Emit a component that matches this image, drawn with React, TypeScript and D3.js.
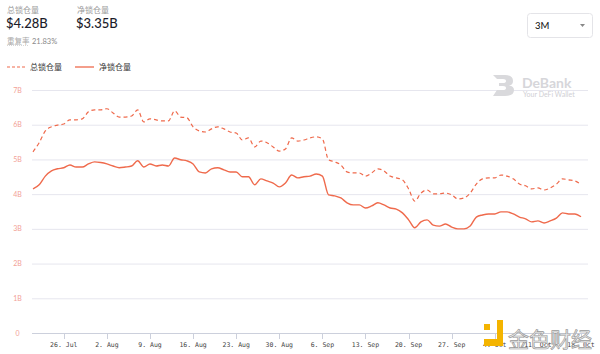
import React, { useEffect, useRef } from 'react';
import * as d3 from 'd3';

// daily values, 21 Jul 2021 .. 18 Oct 2021 (billions USD)
const startDate = new Date(2021, 6, 21);

const totalLocked = [
  5.22, 5.48, 5.82, 5.94, 5.99, 6.02, 6.14, 6.14, 6.17, 6.37,
  6.43, 6.43, 6.46, 6.34, 6.22, 6.22, 6.25, 6.43, 6.08, 6.17,
  6.14, 6.11, 6.11, 6.4, 6.22, 6.2, 5.94, 5.82, 5.79, 5.88,
  5.94, 5.88, 5.79, 5.76, 5.56, 5.62, 5.36, 5.53, 5.48, 5.36,
  5.24, 5.3, 5.62, 5.53, 5.56, 5.62, 5.65, 5.59, 4.99, 4.93,
  4.84, 4.64, 4.61, 4.61, 4.52, 4.61, 4.73, 4.67, 4.52, 4.47,
  4.41, 4.15, 3.8, 4.03, 4.12, 4.01, 4.01, 4.03, 3.98, 3.86,
  3.89, 4.03, 4.29, 4.44, 4.47, 4.47, 4.55, 4.52, 4.44, 4.29,
  4.24, 4.15, 4.18, 4.12, 4.18, 4.29, 4.44, 4.41, 4.38, 4.28,
];

const netLocked = [
  4.15, 4.27, 4.52, 4.67, 4.73, 4.76, 4.84, 4.78, 4.78, 4.87,
  4.93, 4.91, 4.87, 4.81, 4.76, 4.78, 4.81, 4.96, 4.78, 4.87,
  4.81, 4.84, 4.81, 5.04, 4.99, 4.96, 4.87, 4.64, 4.61, 4.73,
  4.76, 4.7, 4.64, 4.64, 4.5, 4.5, 4.27, 4.44, 4.38, 4.32,
  4.21, 4.32, 4.55, 4.47, 4.5, 4.52, 4.58, 4.52, 3.98, 3.95,
  3.89, 3.75, 3.69, 3.69, 3.6, 3.66, 3.75, 3.69, 3.6, 3.57,
  3.46, 3.26, 3.03, 3.2, 3.26, 3.11, 3.08, 3.14, 3.05, 3.0,
  3.0, 3.08, 3.34, 3.4, 3.43, 3.43, 3.49, 3.49, 3.43, 3.34,
  3.29, 3.2, 3.23, 3.17, 3.23, 3.31, 3.46, 3.43, 3.43, 3.35,
];

const yTicks = [0, 1, 2, 3, 4, 5, 6, 7];
const seriesNames = ['总锁仓量', '净锁仓量'];

const LINE = '#ef6a4c';
const CJK = '"Noto Sans CJK SC", "Noto Sans", sans-serif';

export default function App() {
  const chartRef = useRef<SVGGElement>(null);

  useEffect(() => {
    if (!chartRef.current) return;
    const g = d3.select(chartRef.current);
    g.selectAll('*').remove();

    const dates = totalLocked.map((_, i) => d3.timeDay.offset(startDate, i));

    const x = d3.scaleTime()
      .domain([dates[0], dates[dates.length - 1]])
      .range([33, 581]);
    const y = d3.scaleLinear().domain([0, 7]).range([333, 90]);

    // grid
    g.append('g')
      .selectAll('line')
      .data(yTicks.filter(t => t > 0))
      .enter().append('line')
      .attr('x1', 32).attr('x2', 588)
      .attr('y1', d => y(d) + 0.5).attr('y2', d => y(d) + 0.5)
      .attr('stroke', '#e6e6ee').attr('stroke-width', 1);

    // y labels
    g.append('g')
      .selectAll('text')
      .data(yTicks)
      .enter().append('text')
      .attr('x', 17.5)
      .attr('y', d => y(d) + 2.5)
      .attr('text-anchor', 'middle')
      .attr('fill', '#f2a196')
      .attr('font-size', '7px')
      .attr('font-family', 'Lato, sans-serif')
      .text(d => (d === 0 ? '0' : `${d}B`));

    // x axis
    g.append('line')
      .attr('x1', 32).attr('x2', 588)
      .attr('y1', 333.5).attr('y2', 333.5)
      .attr('stroke', '#ccd0dc');

    const xTicks = d3.timeMonday.range(startDate, d3.timeDay.offset(dates[dates.length - 1], 1));
    const fmt = d3.timeFormat('%-d. %b');
    const xt = g.append('g');
    xt.selectAll('line')
      .data(xTicks)
      .enter().append('line')
      .attr('x1', d => Math.round(x(d)) + 0.5).attr('x2', d => Math.round(x(d)) + 0.5)
      .attr('y1', 333).attr('y2', 339)
      .attr('stroke', '#ccd0dc');
    xt.selectAll('text')
      .data(xTicks)
      .enter().append('text')
      .attr('x', d => x(d))
      .attr('y', 347)
      .attr('text-anchor', 'middle')
      .attr('fill', '#444')
      .attr('font-size', '6.5px')
      .attr('font-family', '"DejaVu Sans Mono", monospace')
      .text(d => fmt(d));

    // lines
    const line = d3.line<number>()
      .x((_, i) => x(dates[i]))
      .y(d => y(d))
      .curve(d3.curveMonotoneX);

    g.append('path')
      .attr('d', line(totalLocked))
      .attr('fill', 'none')
      .attr('stroke', LINE)
      .attr('stroke-width', 1.2)
      .attr('stroke-dasharray', '4,3');

    g.append('path')
      .attr('d', line(netLocked))
      .attr('fill', 'none')
      .attr('stroke', LINE)
      .attr('stroke-width', 1.4);
  }, []);

  return (
    <svg
      width={600}
      height={354}
      style={{ position: 'absolute', left: 0, top: 0, background: '#fff' }}
    >
      <g ref={chartRef} />

      {/* header */}
      <text x={7} y={13} fontSize={8} fill="#9a9a9a" fontFamily={CJK}>{seriesNames[0]}</text>
      <text x={6} y={28} fontSize={13} fontWeight={500} fill="#1c1d2b" fontFamily="Lato, sans-serif">$4.28B</text>
      <text x={77} y={13} fontSize={8} fill="#9a9a9a" fontFamily={CJK}>{seriesNames[1]}</text>
      <text x={76} y={28} fontSize={13} fontWeight={500} fill="#1c1d2b" fontFamily="Lato, sans-serif">$3.35B</text>
      <text x={7} y={44} fontSize={7.5} fill="#a8a8a8" fontFamily={CJK}>重复率</text>
      <line x1={7} x2={29} y1={45.5} y2={45.5} stroke="#bbb" strokeWidth={0.6} strokeDasharray="1,1" />
      <text x={32} y={44} fontSize={7.5} fill="#888" fontFamily="Lato, sans-serif">21.83%</text>

      {/* dropdown */}
      <rect x={527.5} y={13.5} width={65} height={24} rx={3} fill="#fff" stroke="#e4e4e8" />
      <text x={535} y={28.5} fontSize={9.5} fontWeight={500} fill="#222" fontFamily="Lato, sans-serif">3M</text>
      <path d="M580,24 L585,24 L582.5,27 Z" fill="#888" />

      {/* legend */}
      <line x1={7} x2={25} y1={67} y2={67} stroke={LINE} strokeWidth={1.2} strokeDasharray="3,2" />
      <text x={30} y={70} fontSize={8} fill="#333" fontFamily={CJK}>{seriesNames[0]}</text>
      <line x1={75} x2={94} y1={67} y2={67} stroke={LINE} strokeWidth={1.3} />
      <text x={99} y={70} fontSize={8} fill="#333" fontFamily={CJK}>{seriesNames[1]}</text>

      {/* DeBank watermark */}
      <path
        d="M493,75 L505,75 Q513,75 513,81 Q513,85 509,85.5 Q514,86 514,90 Q514,96 505,96 L493,96 L497,90 L503,90 Q506,90 506,88 Q506,86 503,86 L499,86 L499,83 L503,83 Q506,83 506,81 Q506,79 503,79 L497,79 Z"
        fill="#d9d9dc"
      />
      <text x={522} y={88} fontSize={14} fontWeight={700} fill="#d6d6da" fontFamily="Lato, sans-serif">DeBank</text>
      <text x={523} y={97} fontSize={7} fill="#cfcfd4" fontFamily="Lato, sans-serif">Your DeFi Wallet</text>

      {/* jinse watermark */}
      <g fill="#f4b400">
        <rect x={484} y={324} width={6} height={6} />
        <rect x={497} y={320} width={6} height={26} />
        <rect x={484} y={339} width={19} height={7} />
      </g>
      <text x={508} y={347} fontSize={21} fill="#ececec" stroke="#9a9a9a" strokeWidth={0.7} fontFamily={CJK}>金色财经</text>
    </svg>
  );
}
